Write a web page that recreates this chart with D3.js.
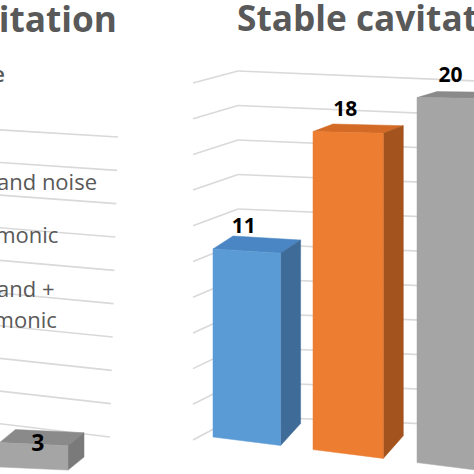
<!DOCTYPE html>
<html>
<head>
<meta charset="utf-8">
<script src="https://cdnjs.cloudflare.com/ajax/libs/d3/7.8.5/d3.min.js"></script>
<style>
  body { margin: 0; background: #fff; }
  svg { display: block; }
</style>
</head>
<body>
<div id="chart"></div>
<script>
// DATA
const categories = ["Broadband noise", "Subharmonic", "Broadband + subharmonic"];
const stableValues = [11, 18, 20];
// only the last transient bar lies inside the picture
const transientValues = [null, null, 3];
const stableTicks = [0, 2, 4, 6, 8, 10, 12, 14, 16, 18, 20];
const transientTicks = [0, 4, 8, 12, 16, 20, 24, 28, 32, 36];
const legendLines = [["Broadband noise"], ["Subharmonic"], ["Broadband +", "subharmonic"]];

const frontColors = ["#5b9bd5", "#ed7d31", "#a5a5a5"];
const topColors = ["#4a86c3", "#d36a25", "#8a8a8a"];
const sideColors = ["#3e6b98", "#a3531d", "#7a7a7a"];

const W = 474, H = 474;
const gridColor = "#d9d9d9";
const textColor = "#595959";

const svg = d3.select("#chart").append("svg")
  .attr("width", W)
  .attr("height", H);

const pts = arr => arr.map(p => p[0].toFixed(1) + "," + p[1].toFixed(1)).join(" ");

// width of a string in a given font, used to size the cropped titles
function textWidth(str, size, weight) {
  var t = svg.append("text")
    .attr("font-family", "Open Sans")
    .attr("font-weight", weight)
    .attr("font-size", size)
    .text(str);
  var w = t.node().getComputedTextLength();
  t.remove();
  return w;
}

// ---------- LEFT PANEL (transient, mostly cropped) ----------
const left = svg.append("g");

var yL = d3.scaleLinear().domain([0, 36]).range([0, 300]);
left.append("g").selectAll("line")
  .data(transientTicks)
  .enter().append("line")
    .attr("x1", -20)
    .attr("x2", d => 110 + 8 * d / 36)
    .attr("y1", d => {
      var xr = 110 + 8 * d / 36, slope = 0.12 - 0.06 * d / 36;
      return 437 - yL(d) - slope * (xr + 20);
    })
    .attr("y2", d => 437 - yL(d))
    .attr("stroke", gridColor)
    .attr("stroke-width", 1.6);

var xL = d3.scaleBand().domain(categories).range([-202, 68]).paddingInner(0.32);
var hL = d3.scaleLinear().domain([0, 36]).range([0, 292]);
var baseL = x => 467 + 0.045 * x;
var backL = p => [p[0] + 16, p[1] - 13];

categories.forEach((c, i) => {
  var v = transientValues[i];
  if (v == null) return;
  var x0 = xL(c), x1 = xL(c) + xL.bandwidth();
  var FL0 = [x0, baseL(x0)], FR0 = [x1, baseL(x1)];
  var FL1 = [x0, baseL(x0) - hL(v)], FR1 = [x1, baseL(x1) - hL(v)];
  var g = left.append("g");
  g.append("polygon").attr("points", pts([FL1, FR1, backL(FR1), backL(FL1)]))
    .attr("fill", topColors[i]).attr("stroke", topColors[i]).attr("stroke-width", 0.5);
  g.append("polygon").attr("points", pts([FR1, FR0, backL(FR0), backL(FR1)]))
    .attr("fill", sideColors[i]).attr("stroke", sideColors[i]).attr("stroke-width", 0.5);
  g.append("polygon").attr("points", pts([FL0, FR0, FR1, FL1]))
    .attr("fill", frontColors[i]).attr("stroke", frontColors[i]).attr("stroke-width", 0.5);
  g.append("text")
    .attr("x", (x0 + x1) / 2 + 4)
    .attr("y", FL1[1] + 8)
    .attr("text-anchor", "middle")
    .attr("font-family", "Open Sans")
    .attr("font-weight", 700)
    .attr("font-size", 23)
    .attr("fill", "#000")
    .text(v);
});

// legend (markers fall outside the crop)
var legendSize = 22;
var legendX = 97 - textWidth(legendLines[0][0], legendSize, 400);

left.append("text")
  .attr("x", 5).attr("y", 82)
  .attr("text-anchor", "end")
  .attr("font-family", "Open Sans")
  .attr("font-weight", 600)
  .attr("font-size", legendSize)
  .attr("fill", textColor)
  .text("Acoustic signature");

var legendY = [190, 243, 297];
legendLines.forEach((lines, i) => {
  left.append("rect")
    .attr("x", legendX - 24).attr("y", legendY[i] - 15)
    .attr("width", 15).attr("height", 15)
    .attr("fill", frontColors[i]);
  var t = left.append("text")
    .attr("x", legendX).attr("y", legendY[i])
    .attr("font-family", "Open Sans")
    .attr("font-size", legendSize)
    .attr("fill", textColor);
  lines.forEach((s, j) => {
    t.append("tspan").attr("x", legendX).attr("dy", j ? 31 : 0).text(s);
  });
});

// titles: "…itation" ends at x 117, "Stable cavitat…" runs from 237 past the edge
var titleSize = 35 * 241 / textWidth("Stable cavitat", 35, 700);

left.append("text")
  .attr("x", 117).attr("y", 32)
  .attr("text-anchor", "end")
  .attr("font-family", "Open Sans")
  .attr("font-weight", 700)
  .attr("font-size", titleSize)
  .attr("fill", textColor)
  .text("Transient cavitation");

// ---------- RIGHT PANEL (stable) ----------
const right = svg.append("g");

var wallY = d3.scaleLinear().domain([0, 20]).range([0, 345]);   // back wall, at corner
var sideY = d3.scaleLinear().domain([0, 20]).range([0, 357]);   // side wall, front edge

// side wall
right.append("g").selectAll("line")
  .data(stableTicks)
  .enter().append("line")
    .attr("x1", 193).attr("y1", d => 440 - sideY(d))
    .attr("x2", 238).attr("y2", d => 416 - wallY(d))
    .attr("stroke", gridColor)
    .attr("stroke-width", 1.6);

// back wall
right.append("g").selectAll("line")
  .data(stableTicks)
  .enter().append("line")
    .attr("x1", 238).attr("y1", d => 416 - wallY(d))
    .attr("x2", 490).attr("y2", d => 416 - wallY(d) + 0.042 * 252)
    .attr("stroke", gridColor)
    .attr("stroke-width", 1.6);

// bars
var xR = d3.scaleBand().domain(categories).range([0, 268]).paddingInner(0.32);
var hR = d3.scaleLinear().domain([0, 20]).range([0, 342]);
var sx = u => 213 + 0.98 * u + 0.0002 * u * u;
var baseR = x => 437 + 0.1256 * (x - 213);
var grow = x => 1 + 0.00033 * (x - 213);
var ptR = (u, v) => { var x = sx(u); return [x, baseR(x) - hR(v) * grow(x)]; };
var backR = p => [p[0] + 20, 0.954 * p[1] - 1.5];

categories.forEach((c, i) => {
  var v = stableValues[i];
  var u0 = xR(c), u1 = xR(c) + xR.bandwidth();
  var FL0 = ptR(u0, 0), FR0 = ptR(u1, 0), FL1 = ptR(u0, v), FR1 = ptR(u1, v);
  var g = right.append("g");
  g.append("polygon").attr("points", pts([FL1, FR1, backR(FR1), backR(FL1)]))
    .attr("fill", topColors[i]).attr("stroke", topColors[i]).attr("stroke-width", 0.5);
  g.append("polygon").attr("points", pts([FR1, FR0, backR(FR0), backR(FR1)]))
    .attr("fill", sideColors[i]).attr("stroke", sideColors[i]).attr("stroke-width", 0.5);
  g.append("polygon").attr("points", pts([FL0, FR0, FR1, FL1]))
    .attr("fill", frontColors[i]).attr("stroke", frontColors[i]).attr("stroke-width", 0.5);
  g.append("text")
    .attr("x", (FL0[0] + FR0[0]) / 2 - 3)
    .attr("y", FL1[1] - 16)
    .attr("text-anchor", "middle")
    .attr("font-family", "Open Sans")
    .attr("font-weight", 700)
    .attr("font-size", 21)
    .attr("fill", "#000")
    .text(v);
});

right.append("text")
  .attr("x", 237).attr("y", 31)
  .attr("font-family", "Open Sans")
  .attr("font-weight", 700)
  .attr("font-size", titleSize)
  .attr("fill", textColor)
  .text("Stable cavitation");
</script>
</body>
</html>
